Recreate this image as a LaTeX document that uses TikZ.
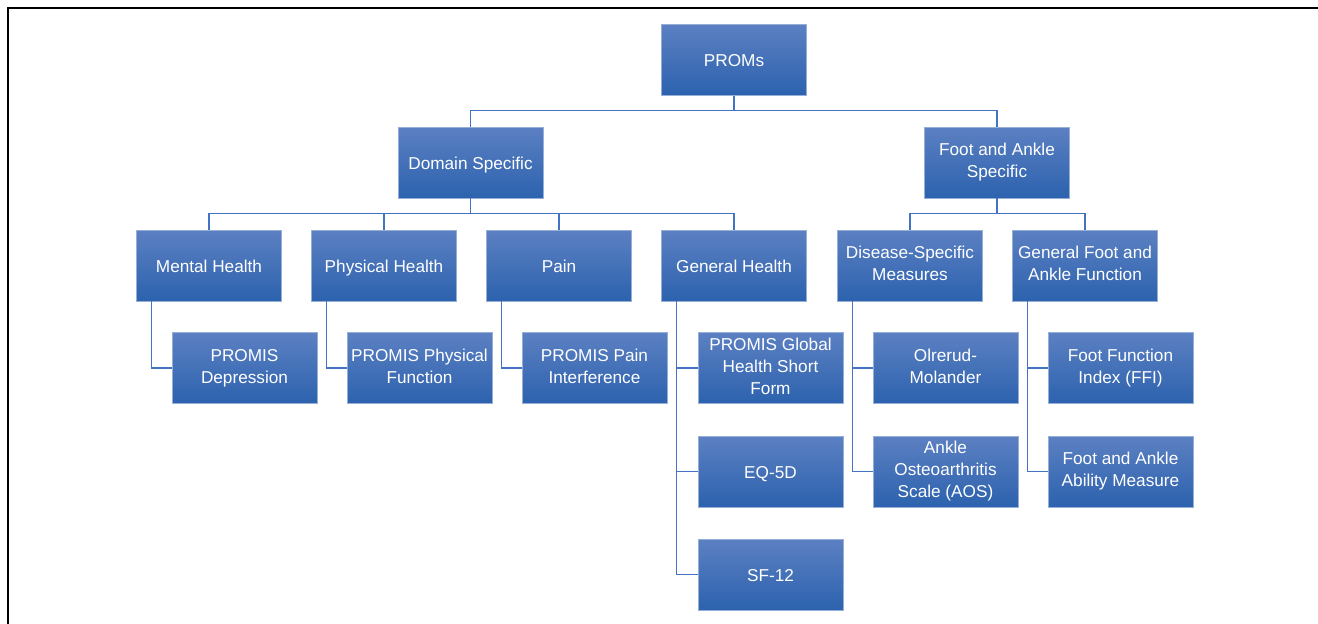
\documentclass[tikz,border=0pt]{standalone}
\usepackage{fontspec}
\setmainfont{Liberation Sans}
\definecolor{boxtop}{RGB}{92,128,194}
\definecolor{boxbot}{RGB}{44,98,174}
\definecolor{boxrim}{RGB}{150,175,215}
\definecolor{linkblue}{RGB}{68,114,196}
\newcommand\promstrut{\rule[-4pt]{0pt}{21.8pt}}
\tikzset{
  prom/.style={rectangle, top color=boxtop, bottom color=boxbot, draw=boxrim, line width=0.6pt,
    minimum width=145pt, minimum height=71pt, inner sep=2pt, align=center, text=white,
    font=\fontsize{17.2}{22}\selectfont,
    execute at begin node=\promstrut, execute at end node=\promstrut},
  link/.style={draw=linkblue, line width=1.2pt}
}

\begin{document}
\begin{tikzpicture}[x=1pt,y=-1pt]
\useasboundingbox (0,0) rectangle (1318,624);
% frame
\draw[line width=2pt] (8,624) -- (8,8) -- (1318,8);

% top levels
\node[prom] (proms) at (734,60) {PROMs};
\node[prom] (domain) at (470.5,162.5) {Domain Specific};
\node[prom] (foot) at (997,162.5) {Foot and Ankle\\Specific};

% third row
\node[prom] (mental) at (209,265.5) {Mental Health};
\node[prom] (physical) at (384,265.5) {Physical Health};
\node[prom] (pain) at (559,265.5) {Pain};
\node[prom] (general) at (734,265.5) {General Health};
\node[prom] (disease) at (910,265.5) {Disease-Specific\\Measures};
\node[prom] (footfn) at (1085,265.5) {General Foot and\\Ankle Function};

% instruments
\node[prom] (depr) at (244.5,368) {PROMIS\\Depression};
\node[prom] (physfn) at (419.5,368) {PROMIS Physical\\Function};
\node[prom] (painint) at (594.5,368) {PROMIS Pain\\Interference};
\node[prom] (global) at (770.5,368) {PROMIS Global\\Health Short\\Form};
\node[prom] (eqfived) at (770.5,471.5) {EQ-5D};
\node[prom] (sftwelve) at (770.5,574.5) {SF-12};
\node[prom] (olerud) at (945.5,368) {Olrerud-\\Molander};
\node[prom] (aos) at (945.5,471.5) {Ankle\\Osteoarthritis\\Scale (AOS)};
\node[prom] (ffi) at (1120.5,368) {Foot Function\\Index (FFI)};
\node[prom] (faam) at (1120.5,471.5) {Foot and Ankle\\Ability Measure};

% tree links
\foreach \c in {domain,foot}
  \draw[link] (proms.south) |- ([yshift=16pt]\c.north) -- (\c.north);
\foreach \c in {mental,physical,pain,general}
  \draw[link] (domain.south) |- ([yshift=16pt]\c.north) -- (\c.north);
\foreach \c in {disease,footfn}
  \draw[link] (foot.south) |- ([yshift=16pt]\c.north) -- (\c.north);

% elbow links
\foreach \p/\c in {mental/depr, physical/physfn, pain/painint, general/global, general/eqfived, general/sftwelve, disease/olerud, disease/aos, footfn/ffi, footfn/faam}
  \draw[link] ([xshift=15pt]\p.south west) |- (\c.west);
\end{tikzpicture}
\end{document}
